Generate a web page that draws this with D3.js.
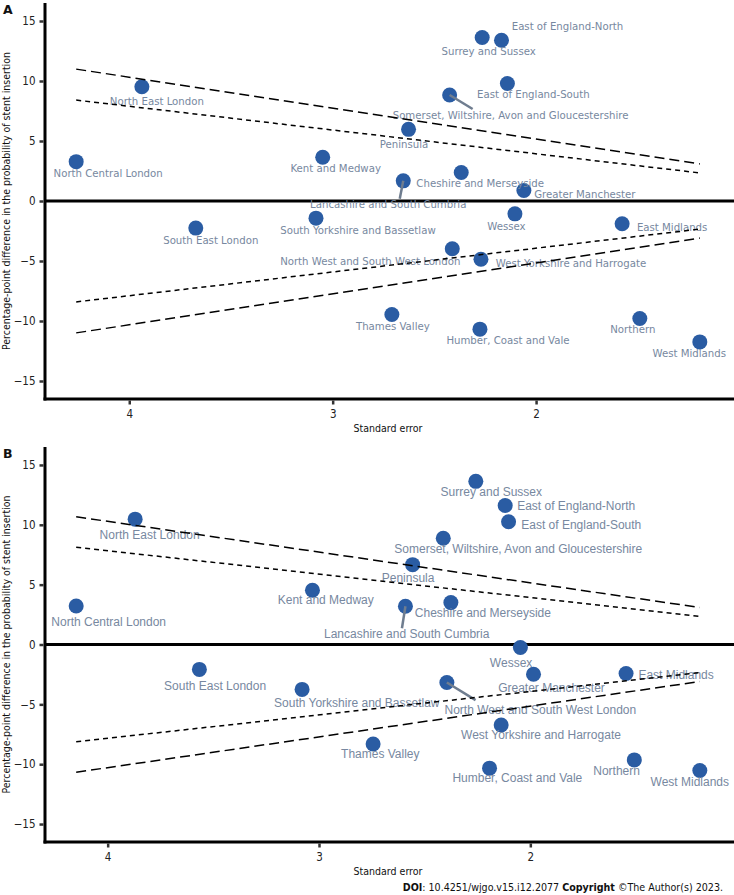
<!DOCTYPE html>
<html>
<head>
<meta charset="utf-8">
<script src="https://cdn.jsdelivr.net/npm/d3@7"></script>
<style>
  html, body { margin: 0; padding: 0; background: #fff; }
  svg { display: block; }
  .cond { font-family: "DejaVu Sans Condensed", "DejaVu Sans", sans-serif; font-stretch: condensed; }
  .arial { font-family: "Liberation Sans", Arial, sans-serif; }
</style>
</head>
<body>
<script>
// ---------------- DATA ----------------
const regions = [
  "North Central London", "North East London", "Kent and Medway",
  "South Yorkshire and Bassetlaw", "Surrey and Sussex", "East of England-North",
  "East of England-South", "Somerset, Wiltshire, Avon and Gloucestershire",
  "Peninsula", "Lancashire and South Cumbria", "Cheshire and Merseyside",
  "Greater Manchester", "Wessex", "East Midlands",
  "North West and South West London", "West Yorkshire and Harrogate",
  "Thames Valley", "Humber, Coast and Vale", "Northern", "West Midlands",
  "South East London"
];

// Panel A: standard error and percentage-point difference
const seA   = [4.261, 3.938, 3.049, 3.082, 2.265, 2.170, 2.141, 2.425, 2.627, 2.653, 2.368,
               2.060, 2.104, 1.577, 2.412, 2.271, 2.709, 2.276, 1.490, 1.195, 3.673];
const diffA = [3.28, 9.52, 3.64, -1.43, 13.62, 13.40, 9.79, 8.83, 5.97, 1.68, 2.37,
               0.87, -1.07, -1.90, -3.98, -4.86, -9.46, -10.68, -9.79, -11.74, -2.26];

// Panel B
const seB   = [4.149, 3.870, 3.031, 3.080, 2.258, 2.119, 2.103, 2.412, 2.557, 2.591, 2.376,
               1.985, 2.047, 1.547, 2.395, 2.138, 2.744, 2.193, 1.508, 1.198, 3.566];
const diffB = [3.22, 10.47, 4.53, -3.75, 13.63, 11.61, 10.25, 8.88, 6.67, 3.19, 3.50,
               -2.48, -0.25, -2.42, -3.17, -6.72, -8.31, -10.33, -9.64, -10.53, -2.08];

// Funnel limits (read at the ends of each dashed line)
const funnelSeA  = [4.261, 1.195];
const limit95A   = [8.41, 2.34];
const limit99A   = [10.99, 3.09];
const funnelSeB  = [4.149, 1.198];
const limit95B   = [8.13, 2.35];
const limit99B   = [10.67, 3.09];

const yTicks = [-15, -10, -5, 0, 5, 10, 15];
const xTicks = [4, 3, 2];
const yLimits = [-15, 15];

// ---------------- LAYOUT (label offsets in px from the point) ----------------
const labelOffA = [[32,12],[15,14.5],[13,11],[42,12.5],[6.5,13.5],[66,-13.5],[26,10.5],[61,20],
  [-4.5,15.5],[-15,24],[19,11],[61,3.5],[-8.5,12.5],[50,3.5],[-82,12.5],[90,4.5],[1,11.5],
  [28,11],[-7,11.5],[-10.5,11.5],[15,12.5]];
const segA = {7: [23, 14], 9: [-3.5, 18]};
const labelOffB = [[32.5,16],[14.5,16.3],[13.3,10],[54.7,14],[15.5,10.3],[71,0],[72.7,3.4],[75,10.6],
  [-4.5,13.4],[1.3,28],[32,10],[18,14.3],[-9.3,16],[50,1.7],[93.5,27.7],[39.8,10],[7.2,10],
  [27.8,10],[-17.7,11],[-10,11],[15.7,16.4]];
const segB = {9: [-3.5, 22], 14: [28.7, 17.7]};

const W = 734, H = 895;
const svg = d3.select("body").append("svg").attr("width", W).attr("height", H);

function panel(opts) {
  const {se, diff, fSe, l95, l99, top, bottom, labelOff, seg, letter, labelClass, labelSize} = opts;
  const left = 45, right = 731;
  const ext = d3.extent(se);
  const pad = (ext[1] - ext[0]) * 0.05;
  const x = d3.scaleLinear().domain([ext[1] + pad, ext[0] - pad]).range([left, right]);
  const yPad = (yLimits[1] - yLimits[0]) * 0.05;
  const y = d3.scaleLinear().domain([yLimits[0] - yPad, yLimits[1] + yPad]).range([bottom, top]);
  const g = svg.append("g");

  // zero line
  g.append("line").attr("x1", left).attr("x2", W).attr("y1", y(0)).attr("y2", y(0))
    .attr("stroke", "#000").attr("stroke-width", 3);

  // points
  const idx = d3.range(regions.length);
  g.selectAll("circle.pt").data(idx).join("circle")
    .attr("cx", i => x(se[i])).attr("cy", i => y(diff[i])).attr("r", 7.5)
    .attr("fill", "#2a5ca3");

  // connector segments
  Object.keys(seg).forEach(k => {
    const i = +k;
    g.append("line")
      .attr("x1", x(se[i])).attr("y1", y(diff[i]))
      .attr("x2", x(se[i]) + seg[k][0]).attr("y2", y(diff[i]) + seg[k][1])
      .attr("stroke", "#6f7d8f").attr("stroke-width", 2.5);
  });

  // labels
  g.selectAll("text.lab").data(idx).join("text")
    .attr("class", labelClass)
    .attr("x", i => x(se[i]) + labelOff[i][0])
    .attr("y", i => y(diff[i]) + labelOff[i][1])
    .attr("text-anchor", "middle").attr("dominant-baseline", "central")
    .attr("font-size", labelSize).attr("fill", "#7788a0")
    .text(i => regions[i]);

  // funnel lines
  const line = d3.line().x(d => x(d[0])).y(d => y(d[1]));
  const mk = (lims, sign, dash) => {
    g.append("path").datum(fSe.map((s, j) => [s, sign * lims[j]]))
      .attr("d", line).attr("fill", "none").attr("stroke", "#000")
      .attr("stroke-width", 1.5).attr("stroke-dasharray", dash);
  };
  mk(l99, 1, "10,5"); mk(l99, -1, "10,5");
  mk(l95, 1, "5,4");  mk(l95, -1, "5,4");

  // axes
  g.append("line").attr("x1", left).attr("x2", left).attr("y1", top).attr("y2", bottom + 1.5)
    .attr("stroke", "#000").attr("stroke-width", 3);
  g.append("line").attr("x1", left - 1.5).attr("x2", W).attr("y1", bottom).attr("y2", bottom)
    .attr("stroke", "#000").attr("stroke-width", 3);

  const yAxis = d3.axisLeft(y).tickValues(yTicks).tickSize(4).tickPadding(4).tickFormat(d3.format("d"));
  const ya = g.append("g").attr("transform", `translate(${left - 1.5},0)`).call(yAxis);
  const xAxis = d3.axisBottom(x).tickValues(xTicks).tickSize(4).tickPadding(5).tickFormat(d3.format("d"));
  const xa = g.append("g").attr("transform", `translate(0,${bottom + 1.5})`).call(xAxis);
  [ya, xa].forEach(a => {
    a.select(".domain").remove();
    a.selectAll(".tick line").attr("stroke", "#333").attr("stroke-width", 2.5);
    a.selectAll(".tick text").attr("class", "cond").attr("font-size", 11.5).attr("fill", "#222");
  });

  // titles
  g.append("text").attr("class", "cond").attr("x", (left + right) / 2).attr("y", bottom + 33)
    .attr("text-anchor", "middle").attr("font-size", 10.5).attr("fill", "#111")
    .text("Standard error");
  g.append("text").attr("class", "cond")
    .attr("transform", `translate(10,${(top + bottom) / 2}) rotate(-90)`)
    .attr("text-anchor", "middle").attr("font-size", 10.5).attr("fill", "#111")
    .text("Percentage-point difference in the probability of stent insertion");

  g.append("text").attr("x", 3).attr("y", top + 11).attr("font-family", "DejaVu Sans, sans-serif")
    .attr("font-weight", "bold").attr("font-size", 12.5).attr("fill", "#111").text(letter);
}

panel({se: seA, diff: diffA, fSe: funnelSeA, l95: limit95A, l99: limit99A, top: 3, bottom: 399,
  labelOff: labelOffA, seg: segA, letter: "A", labelClass: "cond", labelSize: 11.3});
panel({se: seB, diff: diffB, fSe: funnelSeB, l95: limit95B, l99: limit99B, top: 447, bottom: 842,
  labelOff: labelOffB, seg: segB, letter: "B", labelClass: "arial", labelSize: 12});

// footer
const foot = svg.append("text").attr("class", "cond").attr("x", 723).attr("y", 891)
  .attr("text-anchor", "end").attr("font-size", 10.6).attr("fill", "#111");
foot.append("tspan").attr("font-weight", "bold").text("DOI");
foot.append("tspan").text(": 10.4251/wjgo.v15.i12.2077 ");
foot.append("tspan").attr("font-weight", "bold").text("Copyright");
foot.append("tspan").text(" ©The Author(s) 2023.");
</script>
</body>
</html>
